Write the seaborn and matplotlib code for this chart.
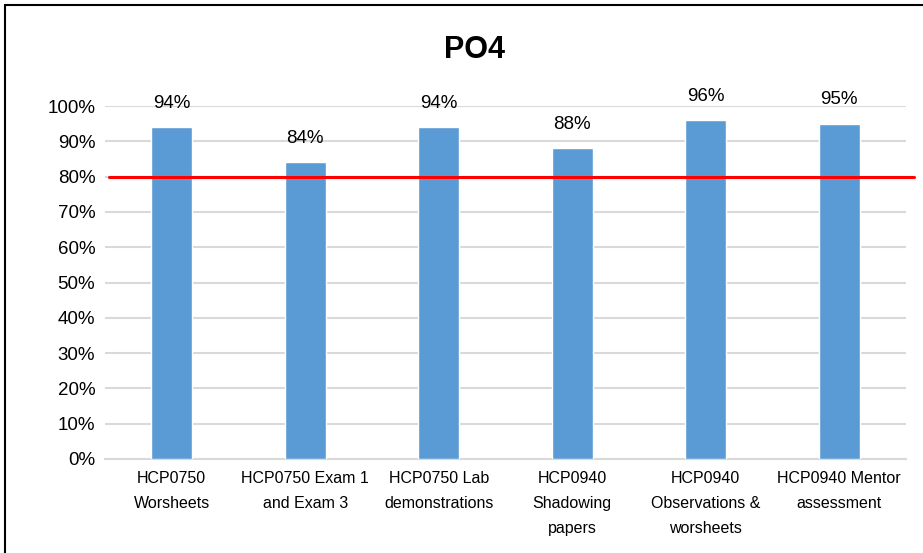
import matplotlib
matplotlib.use("Agg")
import matplotlib.pyplot as plt
import matplotlib.patches as mpatches
import seaborn as sns
import pandas as pd
from matplotlib.ticker import PercentFormatter

categories = ["HCP0750\nWorsheets", "HCP0750 Exam 1\nand Exam 3", "HCP0750 Lab\ndemonstrations",
              "HCP0940\nShadowing\npapers", "HCP0940\nObservations &\nworsheets", "HCP0940 Mentor\nassessment"]
scores = [0.94, 0.84, 0.94, 0.88, 0.96, 0.95]
target = 0.80

df = pd.DataFrame({"item": categories, "score": scores})

sns.set_style("white")
plt.rcParams["font.family"] = ["Liberation Sans", "DejaVu Sans"]
plt.rcParams["text.color"] = "black"
plt.rcParams["xtick.color"] = "black"
plt.rcParams["ytick.color"] = "black"

fig = plt.figure(figsize=(9.23, 5.53), dpi=100)
ax = fig.add_axes([0.1138, 0.170, 0.8678, 0.6383])

sns.barplot(data=df, x="item", y="score", color="#5B9BD5", width=0.31,
            saturation=1, ax=ax, zorder=3)

ax.set_ylim(0, 1.0)
ax.set_yticks([i / 10 for i in range(11)])
ax.yaxis.set_major_formatter(PercentFormatter(1.0, decimals=0))
ax.grid(axis="y", color="#D9D9D9", linewidth=1.5, zorder=0)
ax.set_axisbelow(True)
for s in ["top", "right", "left"]:
    ax.spines[s].set_visible(False)
ax.spines["bottom"].set_color("#D9D9D9")
ax.spines["bottom"].set_linewidth(1.5)
ax.tick_params(axis="y", labelsize=13.5, length=0, pad=7)
ax.tick_params(axis="x", labelsize=11.5, length=0, pad=9)
for lab in ax.get_xticklabels():
    lab.set_linespacing(1.8)
ax.set_xlabel("")
ax.set_ylabel("")

for i, v in enumerate(scores):
    ax.annotate(f"{v:.0%}", (i, v), xytext=(0, 11), textcoords="offset points",
                ha="center", va="bottom", fontsize=13.5)

ax.axhline(target, xmin=0.005, xmax=1.01, color="#FF0000", linewidth=2.2,
           clip_on=False, zorder=4)

fig.text(474 / 923, 1 - 50 / 553, "PO4", fontsize=22, fontweight="bold",
         ha="center", va="center")

# chart border (right/bottom cut off in the original)
fig.patches.append(mpatches.Rectangle((5 / 923, -0.1), 1.2, 1.1 - 5 / 553,
                                      transform=fig.transFigure, fill=False,
                                      edgecolor="black", linewidth=1.5))

fig.savefig("out.png", dpi=100)
